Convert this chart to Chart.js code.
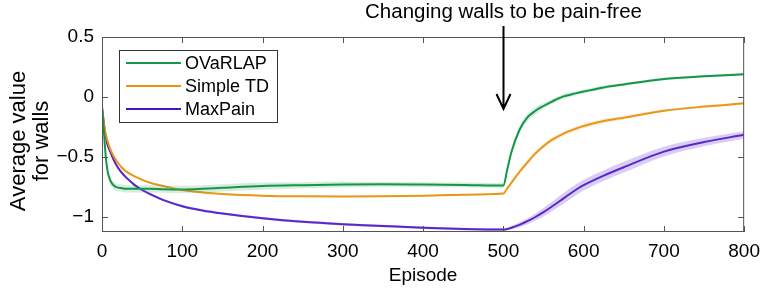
<!DOCTYPE html>
<html>
<head>
<meta charset="utf-8">
<script src="https://cdn.jsdelivr.net/npm/chart.js@4.4.1/dist/chart.umd.min.js"></script>
<style>
  html, body { margin: 0; padding: 0; background: #fff; }
  #wrap { width: 768px; height: 292px; }
</style>
</head>
<body>
<div id="wrap"><canvas id="wallChart" width="768" height="292"></canvas></div>
<script>
// values
const episodes = [0, 1, 2, 3, 5, 7, 10, 15, 20, 25,
                  30, 40, 50, 60, 75, 100, 125, 150, 200, 250,
                  300, 350, 400, 450, 500,
                  505, 510, 520, 530, 540,
                  550, 560, 575, 590, 600,
                  625, 650, 700, 750, 800];
const ovarlap  = [-0.1, -0.16, -0.25, -0.35, -0.52, -0.62, -0.69, -0.74, -0.755, -0.76,
                  -0.765, -0.765, -0.765, -0.765, -0.768, -0.77, -0.765, -0.757, -0.742, -0.735,
                  -0.73, -0.728, -0.73, -0.733, -0.738,
                  -0.6, -0.46, -0.275, -0.17, -0.115,
                  -0.075, -0.04, 0.005, 0.03, 0.045,
                  0.08, 0.105, 0.15, 0.172, 0.19];
const simpleTD = [-0.09, -0.15, -0.2, -0.25, -0.32, -0.37, -0.43, -0.5, -0.55, -0.59,
                  -0.62, -0.66, -0.69, -0.715, -0.74, -0.775, -0.795, -0.808, -0.822, -0.828,
                  -0.83, -0.828, -0.823, -0.815, -0.805,
                  -0.76, -0.715, -0.625, -0.545, -0.47,
                  -0.41, -0.36, -0.305, -0.265, -0.242,
                  -0.2, -0.172, -0.115, -0.08, -0.053];
const maxPain  = [-0.08, -0.14, -0.2, -0.26, -0.34, -0.4, -0.45, -0.53, -0.59, -0.635,
                  -0.67, -0.73, -0.775, -0.81, -0.855, -0.91, -0.945, -0.97, -1.01, -1.04,
                  -1.06, -1.075, -1.09, -1.1, -1.105,
                  -1.1, -1.09, -1.065, -1.035, -1.0,
                  -0.96, -0.915, -0.845, -0.775, -0.735,
                  -0.655, -0.585, -0.455, -0.375, -0.315];
// half width of the shaded bands
const ovarlapSpread = [0, 0.005, 0.01, 0.015, 0.02, 0.025, 0.03, 0.03, 0.03, 0.03,
                       0.03, 0.03, 0.03, 0.03, 0.03, 0.03, 0.03, 0.03, 0.03, 0.025,
                       0.025, 0.02, 0.02, 0.02, 0.02,
                       0.02, 0.03, 0.03, 0.03, 0.03,
                       0.025, 0.02, 0.02, 0.015, 0.015,
                       0.015, 0.012, 0.01, 0.01, 0.01];
const simpleSpread  = [0, 0.003, 0.004, 0.005, 0.006, 0.007, 0.008, 0.008, 0.008, 0.008,
                       0.008, 0.008, 0.008, 0.008, 0.008, 0.006, 0.006, 0.006, 0.006, 0.006,
                       0.006, 0.006, 0.006, 0.006, 0.006,
                       0.01, 0.015, 0.02, 0.02, 0.02,
                       0.02, 0.02, 0.02, 0.02, 0.02,
                       0.018, 0.015, 0.012, 0.01, 0.01];
const maxPainSpread = [0, 0.003, 0.004, 0.005, 0.006, 0.007, 0.008, 0.008, 0.008, 0.01,
                       0.01, 0.01, 0.01, 0.01, 0.01, 0.01, 0.01, 0.01, 0.01, 0.01,
                       0.01, 0.01, 0.01, 0.01, 0.01,
                       0.01, 0.015, 0.02, 0.025, 0.03,
                       0.035, 0.04, 0.045, 0.045, 0.045,
                       0.045, 0.045, 0.04, 0.035, 0.03];
const xTicks = [0, 100, 200, 300, 400, 500, 600, 700, 800];
const yTicks = [-1, -0.5, 0, 0.5];
const seriesNames = ['OVaRLAP', 'Simple TD', 'MaxPain'];
const yTitleLines = ['Average value', 'for walls'];
const annotationText = 'Changing walls to be pain-free';
const annotationEpisode = 500;

const colors = ['rgb(22,150,72)', 'rgb(232,146,18)', 'rgb(72,20,196)'];
const bandColors = ['rgba(22,150,72,0.18)', 'rgba(240,170,60,0.2)', 'rgba(130,90,220,0.3)'];
const FONT = "'Liberation Sans', Arial, sans-serif";

function pts(vals, spread, sign) {
    return episodes.map((e, i) => ({ x: e, y: vals[i] + sign * (spread ? spread[i] : 0) }));
}

const allSeries = [ovarlap, simpleTD, maxPain];
const allSpread = [ovarlapSpread, simpleSpread, maxPainSpread];
const datasets = [];
// bands first so the lines sit on top
allSeries.forEach((vals, k) => {
    datasets.push({ label: 'lo' + k, data: pts(vals, allSpread[k], -1), borderWidth: 0, pointRadius: 0, fill: false, cubicInterpolationMode: 'monotone' });
    datasets.push({ label: 'hi' + k, data: pts(vals, allSpread[k], 1), borderWidth: 0, pointRadius: 0, backgroundColor: bandColors[k], fill: '-1', cubicInterpolationMode: 'monotone' });
});
allSeries.forEach((vals, k) => {
    datasets.push({ label: seriesNames[k], data: pts(vals, null, 0), borderColor: colors[k], borderWidth: 2, pointRadius: 0, fill: false, cubicInterpolationMode: 'monotone' });
});

function fmt(v) {
    return v < 0 ? '\u2212' + Math.abs(v) : String(v);
}

const boxAndTicks = {
    id: 'boxAndTicks',
    afterDatasetsDraw(chart) {
        const c = chart.ctx, a = chart.chartArea;
        const xs = chart.scales.x, ys = chart.scales.y;
        c.save();
        c.strokeStyle = '#555';
        c.lineWidth = 1;
        c.strokeRect(a.left + 0.5, a.top + 0.5, a.right - a.left - 1, a.bottom - a.top - 1);
        c.beginPath();
        xTicks.forEach(t => {
            const px = Math.round(xs.getPixelForValue(t)) + 0.5;
            c.moveTo(px, a.bottom); c.lineTo(px, a.bottom - 6);
            c.moveTo(px, a.top); c.lineTo(px, a.top + 6);
        });
        yTicks.forEach(t => {
            const py = Math.round(ys.getPixelForValue(t)) + 0.5;
            c.moveTo(a.left, py); c.lineTo(a.left + 6, py);
            c.moveTo(a.right, py); c.lineTo(a.right - 6, py);
        });
        c.stroke();

        // legend
        const lx = 119, ly = 50, lw = 158, lh = 72;
        c.fillStyle = '#fff';
        c.fillRect(lx, ly, lw, lh);
        c.strokeStyle = '#333';
        c.strokeRect(lx + 0.5, ly + 0.5, lw, lh);
        c.font = '18px ' + FONT;
        c.textBaseline = 'middle';
        seriesNames.forEach((name, k) => {
            const y = ly + 13 + k * 23;
            c.strokeStyle = colors[k];
            c.lineWidth = 2;
            c.beginPath(); c.moveTo(lx + 7, y); c.lineTo(lx + 62, y); c.stroke();
            c.fillStyle = '#000';
            c.fillText(name, lx + 66, y + 1);
        });

        // y axis title, two lines
        c.save();
        c.translate(0, 141);
        c.rotate(-Math.PI / 2);
        c.fillStyle = '#000';
        c.font = '22px ' + FONT;
        c.textAlign = 'center';
        c.textBaseline = 'middle';
        c.fillText(yTitleLines[0], 0, 19);
        c.fillText(yTitleLines[1], 0, 42);
        c.restore();

        // annotation
        const ax = Math.round(xs.getPixelForValue(annotationEpisode)) + 0.5;
        c.fillStyle = '#000';
        c.font = '20.5px ' + FONT;
        c.textAlign = 'center';
        c.textBaseline = 'middle';
        c.fillText(annotationText, ax, 12);
        c.strokeStyle = '#000';
        c.lineWidth = 2;
        c.beginPath();
        c.moveTo(ax, 26); c.lineTo(ax, 109);
        c.moveTo(ax - 7, 94); c.lineTo(ax, 109); c.lineTo(ax + 7, 94);
        c.stroke();
        c.restore();
    }
};

const chart = new Chart(document.getElementById('wallChart').getContext('2d'), {
    type: 'line',
    data: { datasets: datasets },
    options: {
        responsive: false,
        animation: false,
        layout: { padding: { left: 2, right: 18, top: 37, bottom: 0 } },
        plugins: { legend: { display: false }, tooltip: { enabled: false } },
        scales: {
            x: {
                type: 'linear', min: 0, max: 800,
                grid: { display: false, drawTicks: false },
                border: { display: false },
                afterBuildTicks: s => { s.ticks = xTicks.map(v => ({ value: v })); },
                afterFit: s => { s.height = 60; },
                ticks: { color: '#000', font: { family: FONT, size: 19 }, padding: 8, maxRotation: 0, callback: v => String(v) },
                title: { display: true, text: 'Episode', color: '#000', font: { family: FONT, size: 19 }, padding: { top: 0, bottom: 5 } }
            },
            y: {
                min: -1.125, max: 0.5,
                grid: { display: false, drawTicks: false },
                border: { display: false },
                afterBuildTicks: s => { s.ticks = yTicks.map(v => ({ value: v })); },
                afterFit: s => { s.width = 100; },
                ticks: { color: '#000', font: { family: FONT, size: 19 }, padding: 8, callback: v => fmt(v) }
            }
        }
    },
    plugins: [boxAndTicks]
});
</script>
</body>
</html>
